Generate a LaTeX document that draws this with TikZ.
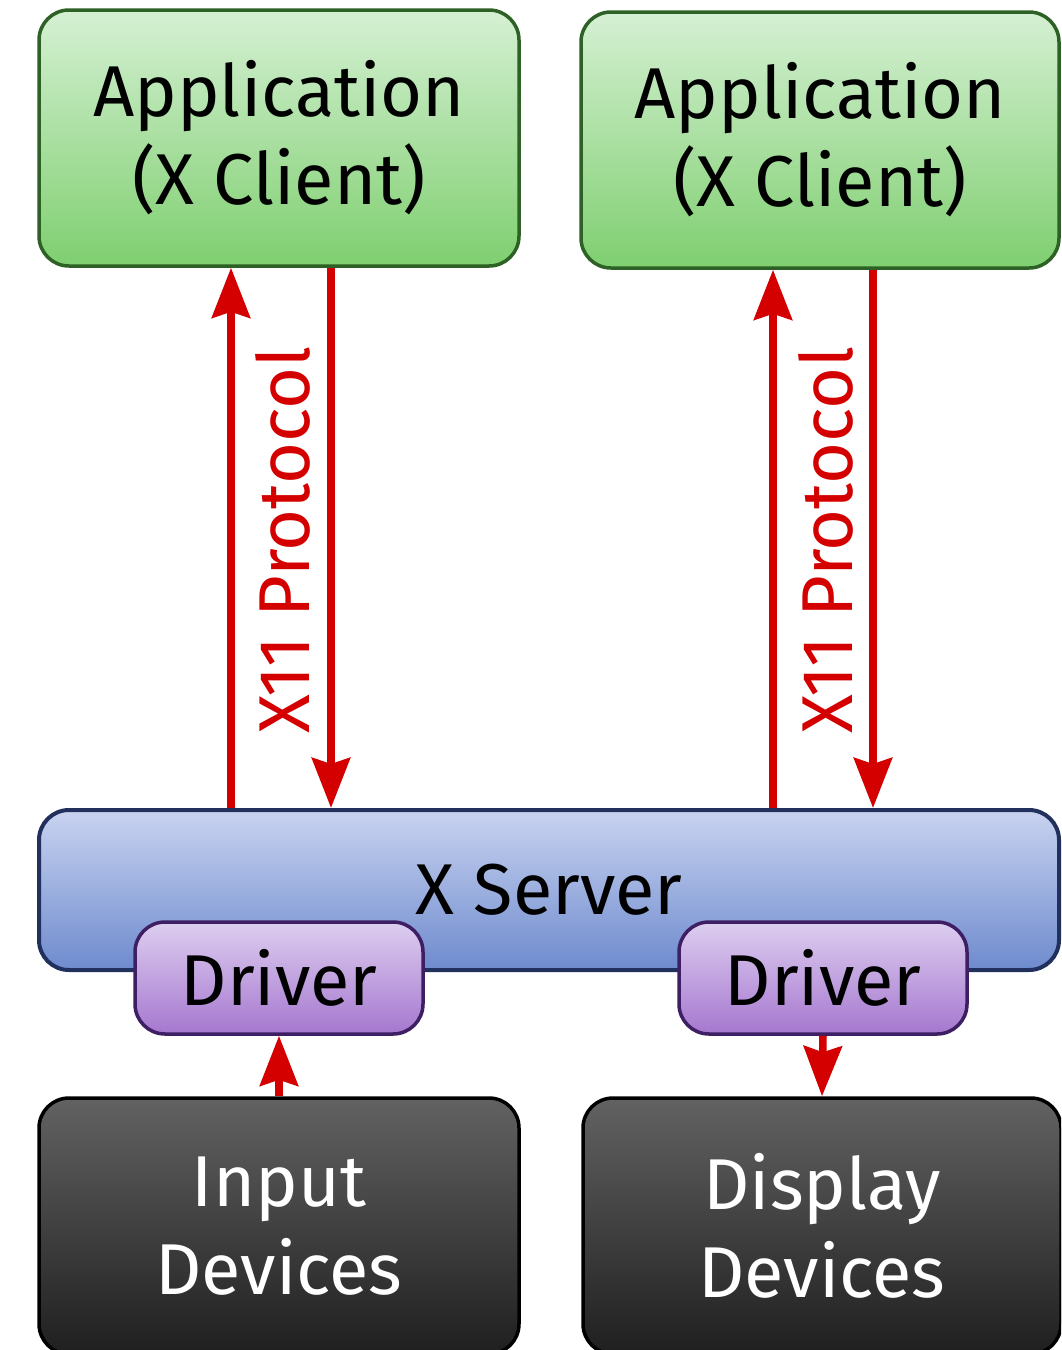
\documentclass[tikz,border=0pt]{standalone}
\usepackage{fontspec}
\setmainfont{Fira Sans}
\usepackage{xcolor}
\definecolor{clientfill}{HTML}{D5F0D3}
\definecolor{clientfillb}{HTML}{7FCF70}
\definecolor{clientline}{HTML}{2D6125}
\definecolor{serverfill}{HTML}{C9D3F0}
\definecolor{serverfillb}{HTML}{6E8BCE}
\definecolor{serverline}{HTML}{22305E}
\definecolor{driverfill}{HTML}{DDCEF0}
\definecolor{driverfillb}{HTML}{A577CF}
\definecolor{driverline}{HTML}{3F1F63}
\definecolor{devfill}{HTML}{626262}
\definecolor{devfillb}{HTML}{1F1F1F}
\definecolor{protored}{HTML}{D40000}
\usepackage{tikz}
\usetikzlibrary{arrows.meta, positioning, calc}

\tikzset{
  box/.style={rounded corners=30pt, line width=3.5pt, inner sep=0pt, align=center,
    font=\fontsize{72}{88}\selectfont},
  client/.style={box, draw=clientline, top color=clientfill, bottom color=clientfillb,
    minimum width=480pt, minimum height=256pt},
  xserver/.style={box, draw=serverline, top color=serverfill, bottom color=serverfillb,
    minimum width=1020pt, minimum height=160pt, line width=4pt},
  driver/.style={box, draw=driverline, top color=driverfill, bottom color=driverfillb,
    minimum width=288pt, minimum height=112pt},
  device/.style={box, draw=black, top color=devfill, bottom color=devfillb, text=white,
    minimum width=480pt, minimum height=256pt},
  link/.style={protored, line width=7.5pt, -{Stealth[length=50pt, width=38pt, inset=6pt]}},
  protolabel/.style={rotate=90, text=protored, font=\fontsize{72}{88}\selectfont}
}

\begin{document}
\begin{tikzpicture}[x=1pt, y=-1pt]
\clip (0,0) rectangle (1061,1350);

% Clients
\node[client] (appL) at (279,138) {Application\\(X Client)};
\node[client, minimum width=478pt] (appR) at (820,140) {Application\\(X Client)};

% X server with its drivers
\node[xserver] (srv) at (549,890) {X Server};
\node[driver] (drvL) at (279,978) {Driver};
\node[driver] (drvR) at (823,978) {Driver};

% Devices
\node[device] (inp) at (279,1226) {Input\\Devices};
\node[device, minimum width=478pt] (disp) at (822,1226) {Display\\Devices};

% Protocol traffic
\draw[link] ([xshift=-48pt]appL.south |- srv.north) -- ([xshift=-48pt]appL.south);
\draw[link] ([xshift=52pt]appL.south) -- ([xshift=52pt]appL.south |- srv.north);
\draw[link] ([xshift=-47pt]appR.south |- srv.north) -- ([xshift=-47pt]appR.south);
\draw[link] ([xshift=53pt]appR.south) -- ([xshift=53pt]appR.south |- srv.north);
\node[protolabel] (protoL) at (283,540) {X11 Protocol};
\node[protolabel] (protoR) at (826,540) {X11 Protocol};

% Device links
\draw[link] (inp.north) -- (drvL.south);
\draw[link] (drvR.south) -- (disp.north);
\end{tikzpicture}
\end{document}
